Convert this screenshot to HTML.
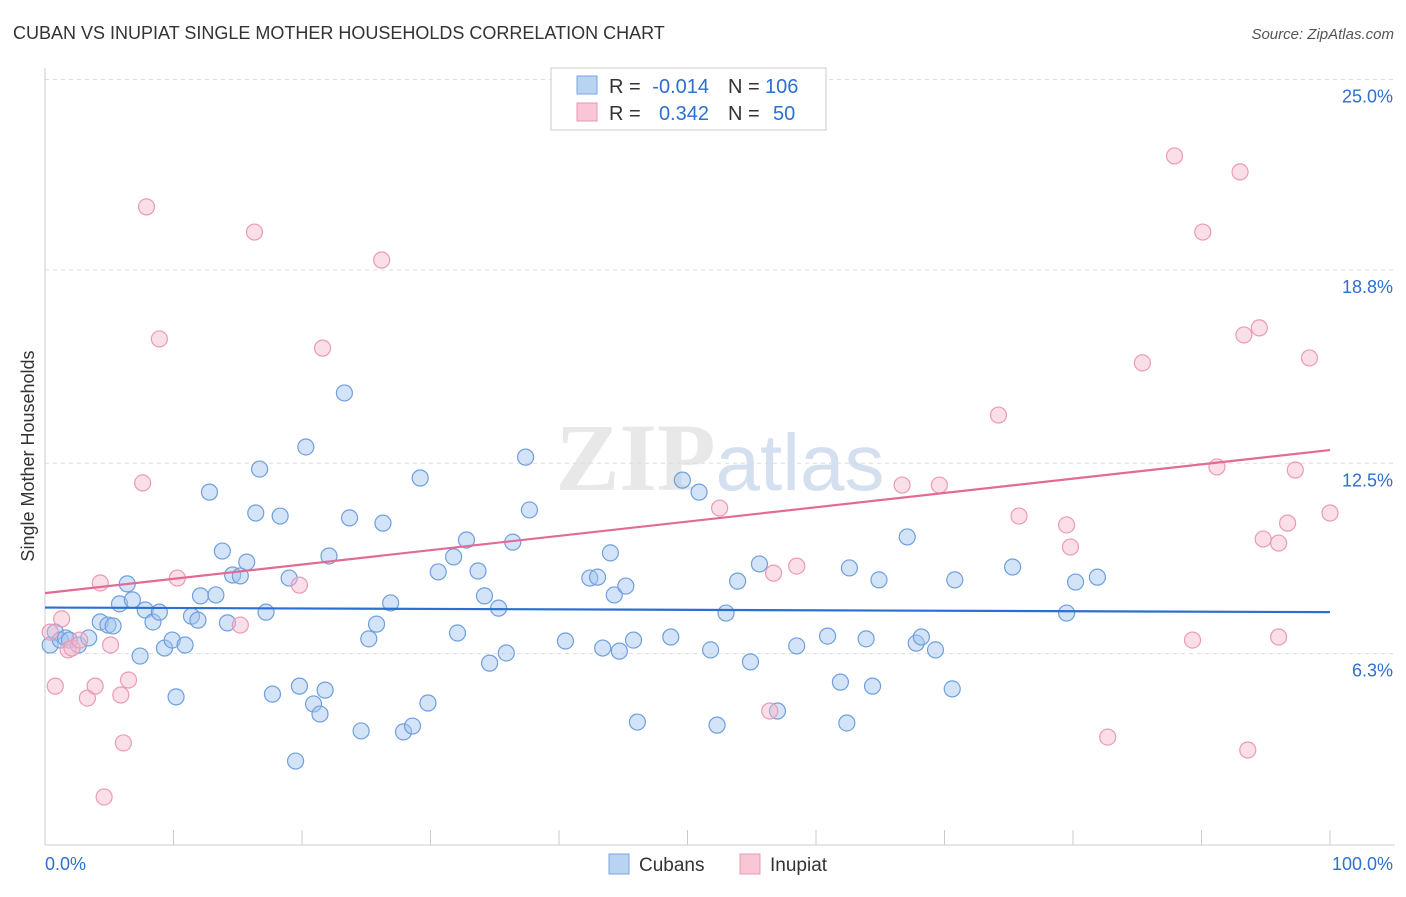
<!DOCTYPE html>
<html><head><meta charset="utf-8">
<style>
body{margin:0;background:#fff;font-family:"Liberation Sans",sans-serif;}
svg text{font-family:"Liberation Sans",sans-serif;}
</style></head>
<body>
<svg id="chart" width="1406" height="892" viewBox="0 0 1406 892" xmlns="http://www.w3.org/2000/svg">
<text x="13" y="39" font-size="18" fill="#333">CUBAN VS INUPIAT SINGLE MOTHER HOUSEHOLDS CORRELATION CHART</text>
<text x="1394" y="39" font-size="15" fill="#555" text-anchor="end" font-style="italic">Source: ZipAtlas.com</text>
<text x="720" y="490" font-size="96" text-anchor="middle" fill="#d9d9d9" opacity="0.6"><tspan font-family="Liberation Serif" font-weight="bold">ZIP</tspan><tspan fill="#b8cbe6" font-size="80">atlas</tspan></text>
<g id="grid"></g>
<g id="axes"></g>
<text transform="translate(34,456) rotate(-90)" font-size="18" fill="#333" text-anchor="middle">Single Mother Households</text>
<g id="pts"></g>
<g id="lines"></g>
<g>
<rect x="551" y="68" width="275" height="62" fill="#fff" stroke="#ccc"/>
<rect x="577" y="76" width="20" height="18" fill="#b9d3f3" stroke="#7aa6e0"/>
<text x="609" y="93" font-size="20" fill="#333">R =</text>
<text x="709" y="93" font-size="20" fill="#2e6fd0" text-anchor="end">-0.014</text>
<text x="728" y="93" font-size="20" fill="#333">N =</text>
<text x="765" y="93" font-size="20" fill="#2e6fd0">106</text>
<rect x="577" y="103" width="20" height="18" fill="#f8c6d5" stroke="#e89ab3"/>
<text x="609" y="120" font-size="20" fill="#333">R =</text>
<text x="709" y="120" font-size="20" fill="#2e6fd0" text-anchor="end">0.342</text>
<text x="728" y="120" font-size="20" fill="#333">N =</text>
<text x="773" y="120" font-size="20" fill="#2e6fd0">50</text>
</g>
<g>
<rect x="609" y="854" width="20" height="20" fill="#b9d3f3" stroke="#7aa6e0"/>
<text x="639" y="871" font-size="19" fill="#333">Cubans</text>
<rect x="740" y="854" width="20" height="20" fill="#f8c6d5" stroke="#e89ab3"/>
<text x="770" y="871" font-size="19" fill="#333">Inupiat</text>
</g>
</svg>
<script>
const yTicks=[25.0,18.8,12.5,6.3];
const yTickLabels=["25.0%","18.8%","12.5%","6.3%"];
const xEndLabels=["0.0%","100.0%"];
const cubanX=[0.4,0.8,1.2,1.6,1.9,2.6,3.4,4.3,4.9,5.3,5.8,6.4,6.8,7.4,7.8,8.4,8.9,9.3,9.9,10.2,10.9,11.4,11.9,12.1,12.8,13.3,13.8,14.2,14.6,15.2,15.7,16.4,16.7,17.2,17.7,18.3,19.0,19.5,19.8,20.3,20.9,21.4,21.8,22.1,23.3,23.7,24.6,25.2,25.8,26.3,26.9,27.9,28.6,29.2,29.8,30.6,31.8,32.1,32.8,33.7,34.2,34.6,35.3,35.9,36.4,37.4,37.7,40.5,42.4,43.0,43.4,44.0,44.3,44.7,45.2,45.8,46.1,48.7,49.6,50.9,51.8,52.3,53.0,53.9,54.9,55.6,57.0,58.5,60.9,61.9,62.4,62.6,63.9,64.4,64.9,67.1,67.8,68.2,69.3,70.6,70.8,75.3,79.5,80.2,81.9];
const cubanY=[6.58,7.0,6.74,6.81,6.74,6.58,6.81,7.33,7.23,7.2,7.92,8.57,8.05,6.22,7.72,7.33,7.65,6.48,6.74,4.89,6.58,7.52,7.39,8.18,11.56,8.21,9.64,7.30,8.86,8.83,9.28,10.88,12.31,7.65,4.98,10.78,8.76,2.80,5.24,13.03,4.66,4.33,5.11,9.48,14.79,10.72,3.78,6.78,7.26,10.55,7.95,3.75,3.94,12.02,4.69,8.96,9.45,6.97,10.0,8.99,8.18,5.99,7.78,6.32,9.93,12.70,10.98,6.71,8.76,8.79,6.48,9.58,8.21,6.38,8.50,6.74,4.07,6.84,11.95,11.56,6.42,3.97,7.62,8.66,6.03,9.22,4.43,6.55,6.87,5.37,4.04,9.09,6.78,5.24,8.70,10.10,6.64,6.84,6.42,5.15,8.70,9.12,7.62,8.63,8.79];
const inupiatX=[0.4,0.8,1.3,1.8,2.1,2.7,3.3,3.9,4.3,4.6,5.1,5.9,6.1,6.5,7.6,7.9,8.9,10.3,15.2,16.3,19.8,21.6,26.2,52.5,56.4,56.7,58.5,66.7,69.6,74.2,75.8,79.5,79.8,82.7,85.4,87.9,89.3,90.1,91.2,93.0,93.3,93.6,94.5,94.8,96.0,96.0,96.7,97.3,98.4,100.0];
const inupiatY=[7.0,5.24,7.43,6.42,6.48,6.74,4.85,5.24,8.60,1.63,6.58,4.95,3.39,5.44,11.86,20.85,16.55,8.76,7.23,20.03,8.53,16.25,19.12,11.04,4.43,8.92,9.15,11.79,11.79,14.07,10.78,10.49,9.77,3.58,15.77,22.51,6.74,20.03,12.38,21.99,16.68,3.16,16.91,10.03,9.90,6.84,10.55,12.28,15.93,10.88];
const cubanTrend=[7.8,7.65];
const inupiatTrend=[8.27,12.93];

const NS="http://www.w3.org/2000/svg";
const X=p=>45+p*12.85;
const Y=v=>847-v*30.7;
function mk(tag,attrs,parent){const e=document.createElementNS(NS,tag);for(const k in attrs)e.setAttribute(k,attrs[k]);parent.appendChild(e);return e;}
const grid=document.getElementById('grid'),axes=document.getElementById('axes'),pts=document.getElementById('pts'),lines=document.getElementById('lines');
yTicks.forEach((t,i)=>{
  const l=mk('line',{x1:45,x2:1395,y1:Y(t),y2:Y(t),stroke:'#ddd','stroke-dasharray':'4,4'},grid);
  
  
  const tx=mk('text',{x:1393,y:Y(t)+23,'font-size':18,fill:'#2e6fd0','text-anchor':'end'},axes);
  tx.textContent=yTickLabels[i];
  
  
});
mk('line',{x1:45,x2:45,y1:68,y2:845,stroke:'#ccc'},axes);
mk('line',{x1:45,x2:1395,y1:845,y2:845,stroke:'#ccc'},axes);
for(let i=0;i<=10;i++){
  const t=mk('line',{x1:X(i*10),x2:X(i*10),y1:830,y2:845,stroke:'#ccc'},axes);
  
  
}
const xl0=mk('text',{x:45,y:870,'font-size':18,fill:'#2e6fd0'},axes);xl0.textContent=xEndLabels[0];


const xl1=mk('text',{x:1393,y:870,'font-size':18,fill:'#2e6fd0','text-anchor':'end'},axes);xl1.textContent=xEndLabels[1];


cubanX.forEach((x,i)=>{
  const c=mk('circle',{cx:X(x),cy:Y(cubanY[i]),r:8,fill:'rgba(160,196,240,0.45)',stroke:'#6f9fdc','stroke-width':1.2},pts);
  
  
});
inupiatX.forEach((x,i)=>{
  const c=mk('circle',{cx:X(x),cy:Y(inupiatY[i]),r:8,fill:'rgba(246,184,204,0.45)',stroke:'#eb9ab5','stroke-width':1.2},pts);
  
  
});
const bl=mk('line',{x1:X(0),x2:X(100),y1:Y(cubanTrend[0]),y2:Y(cubanTrend[1]),stroke:'#2a6fd1','stroke-width':2.2},lines);


const pl=mk('line',{x1:X(0),x2:X(100),y1:Y(inupiatTrend[0]),y2:Y(inupiatTrend[1]),stroke:'#e46a96','stroke-width':2.2},lines);


</script>
</body></html>
